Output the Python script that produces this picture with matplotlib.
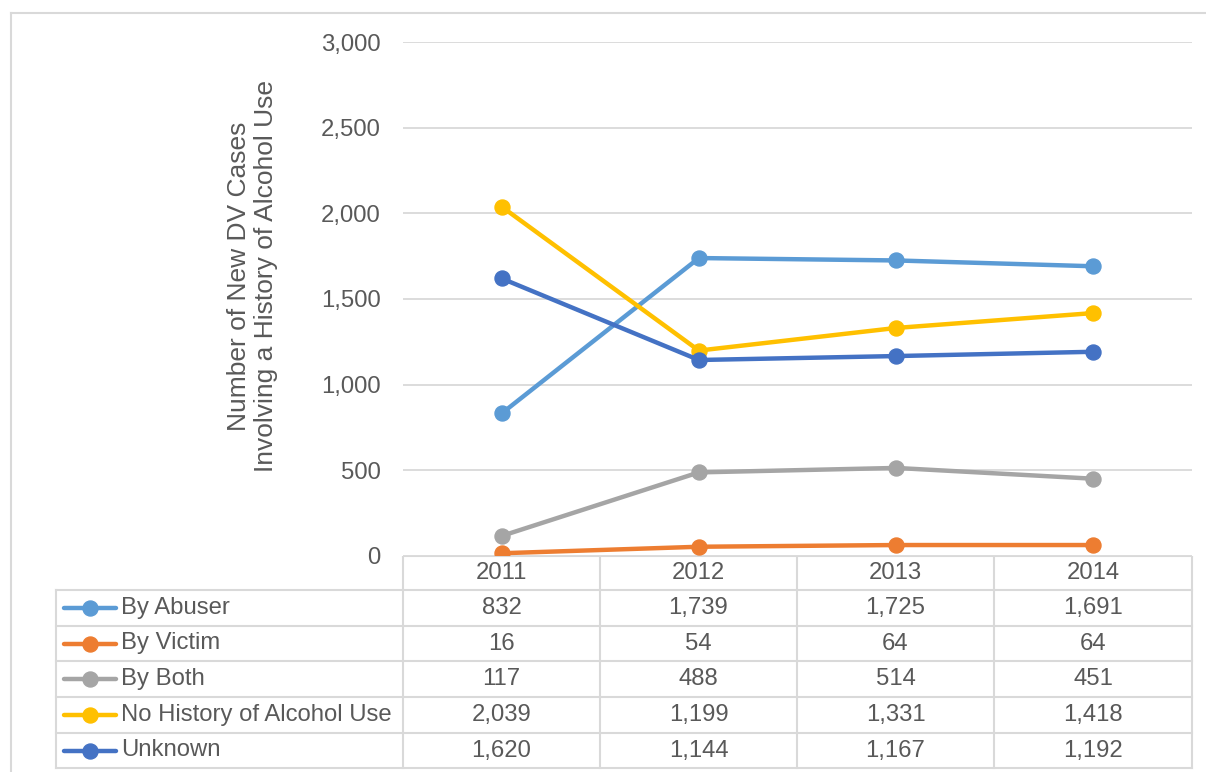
import matplotlib.pyplot as plt
from matplotlib.lines import Line2D

# Data
years = ['2011', '2012', '2013', '2014']
series_names = ['By Abuser', 'By Victim', 'By Both', 'No History of Alcohol Use', 'Unknown']
by_abuser = [832, 1739, 1725, 1691]
by_victim = [16, 54, 64, 64]
by_both = [117, 488, 514, 451]
no_history = [2039, 1199, 1331, 1418]
unknown = [1620, 1144, 1167, 1192]
colors = ['#5B9BD5', '#ED7D31', '#A5A5A5', '#FFC000', '#4472C4']
yticks = [0, 500, 1000, 1500, 2000, 2500, 3000]

all_series = [by_abuser, by_victim, by_both, no_history, unknown]

plt.rcParams['font.family'] = ['Liberation Sans', 'DejaVu Sans']
txt = '#595959'
grid = '#D9D9D9'
fs = 17.2

W, H = 1206, 772
fig = plt.figure(figsize=(W / 100, H / 100), dpi=100)

def px(x0, y0, x1, y1):
    # pixel box (top-left origin) -> figure fraction rect
    return [x0 / W, 1 - y1 / H, (x1 - x0) / W, (y1 - y0) / H]

# outer chart border
fig.add_artist(Line2D([11 / W, 11 / W], [0, 1 - 13 / H], color=grid, lw=1.5))
fig.add_artist(Line2D([11 / W, 1], [1 - 13 / H, 1 - 13 / H], color=grid, lw=1.5))

# main plot
ax = fig.add_axes(px(403, 42, 1192, 556))
x = range(len(years))
for vals, name, c in zip(all_series, series_names, colors):
    ax.plot(x, vals, color=c, lw=3.2, marker='o', ms=10.8, label=name,
            solid_capstyle='round', zorder=3)
ax.set_xlim(-0.5, len(years) - 0.5)
ax.set_ylim(0, 3000)
ax.set_yticks(yticks)
ax.set_yticklabels([f'{v:,}' for v in yticks], color=txt, fontsize=fs)
ax.tick_params(axis='y', length=0, pad=16)
ax.set_xticks([])
ax.grid(axis='y', color=grid, lw=1.3, zorder=0)
for s in ax.spines.values():
    s.set_visible(False)
ax.set_ylabel('Number of New DV Cases\nInvolving a History of Alcohol Use',
              color=txt, fontsize=19, linespacing=1.2)
ax.yaxis.set_label_coords(-0.158, 0.545)

# data table below the plot
tax = fig.add_axes(px(0, 556, W, 772))
tax.set_xlim(0, W)
tax.set_ylim(772, 556)
tax.axis('off')
lc = dict(color=grid, lw=1.5)
col_edges = [403, 600, 797, 994, 1192]
row_edges = [556, 590, 626, 661, 697, 733, 768]
tax.plot([403, 1192], [556, 556], **lc)
for r in row_edges[1:]:
    tax.plot([56, 1192], [r, r], **lc)
for c in col_edges:
    tax.plot([c, c], [556, 768], **lc)
tax.plot([56, 56], [590, 768], **lc)

centers = [(col_edges[i] + col_edges[i + 1]) / 2 for i in range(len(years))]
for cx, yr in zip(centers, years):
    tax.text(cx, 573, yr, ha='center', va='center', color=txt, fontsize=fs)
for i, (vals, name, c) in enumerate(zip(all_series, series_names, colors)):
    cy = (row_edges[i + 1] + row_edges[i + 2]) / 2
    tax.plot([64, 116], [cy, cy], color=c, lw=3.2, solid_capstyle='round')
    tax.plot([90], [cy], 'o', color=c, ms=10.8)
    tax.text(121, cy, name, ha='left', va='center', color=txt, fontsize=fs)
    for cx, v in zip(centers, vals):
        tax.text(cx, cy, f'{v:,}', ha='center', va='center', color=txt, fontsize=fs)

fig.savefig('out.png', dpi=100)
